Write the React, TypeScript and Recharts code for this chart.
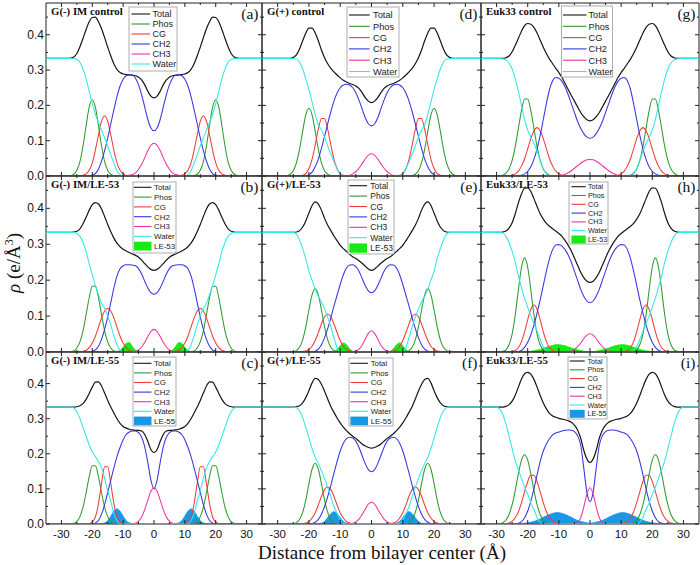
import { ComposedChart, Line, Area, XAxis, YAxis, ReferenceArea } from "recharts"

// Electron density profiles are symmetric about the bilayer centre,
// so each series is read off the picture for z >= 0 and mirrored.
const HALF_X = [0, 1, 2, 3, 4, 5, 6, 7, 8, 9, 10, 11, 12, 13, 14, 15, 16, 17, 18, 19, 20, 21, 22, 23, 24, 25, 26, 27, 28, 29, 30, 35]

const X_TICKS = [-30, -25, -20, -15, -10, -5, 0, 5, 10, 15, 20, 25, 30]
const Y_TICKS = [0, 0.05, 0.1, 0.15, 0.2, 0.25, 0.3, 0.35, 0.4, 0.45]

const KEYS = ["total", "phos", "cg", "ch2", "ch3", "water"]
const LABELS = ["Total", "Phos", "CG", "CH2", "CH3", "Water"]
const COLORS = ["#151515", "#2e9b2e", "#f23b3b", "#3535e6", "#f0339c", "#2fe8e8"]
const LE53_COLOR = "#18ea18"
const LE55_COLOR = "#1a98e6"

// (a) G(-) IM control
const A_TOTAL = [.221, .226, .240, .258, .272, .280, .284, .285,
  .286, .287, .289, .293, .302, .318, .340, .365,
  .392, .417, .437, .450, .449, .437, .415, .390,
  .366, .347, .337, .334, .333, .333, .333, .333]
const A_PHOS = [0, 0, 0, 0, 0, 0, 0, 0,
  0, 0, 0, 0, 0, .001, .005, .016,
  .041, .085, .143, .195, .216, .195, .143, .085,
  .041, .016, .005, .001, 0, 0, 0, 0]
const A_CG = [0, 0, 0, 0, 0, 0, 0, 0,
  0, .002, .006, .016, .037, .073, .116, .155,
  .170, .155, .116, .073, .037, .016, .006, .002,
  0, 0, 0, 0, 0, 0, 0, 0]
const A_CH2 = [.128, .136, .160, .195, .230, .258, .277, .286,
  .287, .284, .274, .255, .225, .188, .148, .108,
  .072, .042, .020, .007, .002, 0, 0, 0,
  0, 0, 0, 0, 0, 0, 0, 0]
const A_CH3 = [.093, .087, .072, .052, .033, .019, .009, .004,
  .002, .001, 0, 0, 0, 0, 0, 0,
  0, 0, 0, 0, 0, 0, 0, 0,
  0, 0, 0, 0, 0, 0, 0, 0]
const A_WATER = [0, 0, 0, 0, 0, 0, 0, 0,
  0, 0, 0, .004, .015, .036, .060, .085,
  .108, .130, .152, .175, .205, .240, .275, .303,
  .322, .330, .333, .333, .333, .333, .333, .333]

// (b) G(-) IM/LE-53
const B_TOTAL = [.227, .230, .237, .246, .256, .264, .269, .273,
  .277, .281, .286, .293, .303, .317, .335, .355,
  .377, .398, .412, .416, .410, .395, .375, .357,
  .343, .336, .334, .333, .333, .333, .333, .333]
const B_PHOS = [0, 0, 0, 0, 0, 0, 0, 0,
  0, 0, 0, 0, .001, .003, .011, .028,
  .059, .104, .151, .183, .183, .151, .104, .059,
  .028, .011, .003, .001, 0, 0, 0, 0]
const B_CG = [0, 0, 0, 0, 0, 0, .001, .002,
  .005, .012, .025, .044, .069, .095, .114, .122,
  .114, .095, .069, .044, .025, .012, .005, .002,
  .001, 0, 0, 0, 0, 0, 0, 0]
const B_CH2 = [.161, .165, .178, .197, .217, .232, .240, .242,
  .243, .243, .240, .232, .212, .178, .138, .098,
  .063, .035, .016, .006, .002, 0, 0, 0,
  0, 0, 0, 0, 0, 0, 0, 0]
const B_CH3 = [.063, .057, .043, .027, .014, .006, .002, .001,
  0, 0, 0, 0, 0, 0, 0, 0,
  0, 0, 0, 0, 0, 0, 0, 0,
  0, 0, 0, 0, 0, 0, 0, 0]
const B_WATER = [0, 0, 0, 0, 0, 0, 0, 0,
  0, 0, 0, .004, .020, .045, .075, .100,
  .122, .135, .160, .185, .215, .245, .280, .305,
  .322, .330, .333, .333, .333, .333, .333, .333]
const B_LE = [0, 0, 0, 0, 0, .001, .005, .015,
  .026, .024, .013, .004, .001, 0, 0, 0,
  0, 0, 0, 0, 0, 0, 0, 0,
  0, 0, 0, 0, 0, 0, 0, 0]

// (c) G(-) IM/LE-55
const C_TOTAL = [.203, .212, .235, .255, .265, .267, .267, .268,
  .270, .273, .278, .287, .300, .316, .333, .352,
  .373, .393, .405, .404, .390, .372, .355, .343,
  .337, .334, .333, .333, .333, .333, .333, .333]
const C_PHOS = [0, 0, 0, 0, 0, 0, 0, 0,
  0, 0, 0, 0, .001, .002, .007, .021,
  .048, .089, .135, .166, .166, .135, .089, .048,
  .021, .007, .002, .001, 0, 0, 0, 0]
const C_CG = [0, 0, 0, 0, 0, 0, 0, 0,
  0, 0, .001, .005, .020, .058, .115, .163,
  .163, .115, .058, .020, .005, .001, 0, 0,
  0, 0, 0, 0, 0, 0, 0, 0]
const C_CH2 = [.100, .125, .175, .220, .247, .260, .265, .265,
  .262, .255, .240, .218, .192, .160, .125, .090,
  .055, .028, .010, .003, 0, 0, 0, 0,
  0, 0, 0, 0, 0, 0, 0, 0]
const C_CH3 = [.103, .093, .068, .041, .020, .008, .002, .001,
  0, 0, 0, 0, 0, 0, 0, 0,
  0, 0, 0, 0, 0, 0, 0, 0,
  0, 0, 0, 0, 0, 0, 0, 0]
const C_WATER = [0, 0, 0, 0, 0, 0, 0, 0,
  0, 0, 0, 0, .010, .030, .065, .095,
  .130, .160, .178, .192, .205, .225, .250, .275,
  .300, .320, .330, .333, .333, .333, .333, .333]
const C_LE = [0, 0, 0, 0, 0, 0, 0, .001,
  .003, .009, .022, .036, .043, .036, .022, .009,
  .003, .001, 0, 0, 0, 0, 0, 0,
  0, 0, 0, 0, 0, 0, 0, 0]

// (d) G(+) control
const D_TOTAL = [.208, .212, .222, .236, .248, .255, .259, .262,
  .266, .271, .278, .286, .295, .305, .318, .335,
  .357, .383, .405, .419, .419, .405, .383, .360,
  .343, .336, .333, .333, .333, .333, .333, .333]
const D_PHOS = [0, 0, 0, 0, 0, 0, 0, 0,
  0, 0, 0, 0, 0, .001, .005, .015,
  .037, .076, .127, .173, .192, .173, .127, .076,
  .037, .015, .005, .001, 0, 0, 0, 0]
const D_CG = [0, 0, 0, 0, 0, 0, 0, 0,
  .001, .002, .007, .021, .047, .088, .132, .163,
  .163, .132, .088, .047, .021, .007, .002, .001,
  0, 0, 0, 0, 0, 0, 0, 0]
const D_CH2 = [.142, .148, .165, .190, .215, .236, .250, .258,
  .260, .258, .250, .235, .212, .182, .148, .112,
  .078, .048, .026, .011, .004, 0, 0, 0,
  0, 0, 0, 0, 0, 0, 0, 0]
const D_CH3 = [.063, .059, .048, .035, .022, .012, .006, .002,
  .001, 0, 0, 0, 0, 0, 0, 0,
  0, 0, 0, 0, 0, 0, 0, 0,
  0, 0, 0, 0, 0, 0, 0, 0]
const D_WATER = [0, 0, 0, 0, 0, 0, 0, 0,
  0, 0, .006, .020, .040, .062, .085, .110,
  .130, .145, .175, .210, .245, .275, .303, .322,
  .331, .333, .333, .333, .333, .333, .333, .333]

// (e) G(+)/LE-53
const E_TOTAL = [.227, .231, .239, .247, .254, .260, .265, .272,
  .280, .288, .297, .310, .323, .338, .353, .372,
  .395, .412, .418, .408, .387, .365, .348, .338,
  .334, .333, .333, .333, .333, .333, .333, .333]
const E_PHOS = [0, 0, 0, 0, 0, 0, 0, 0,
  0, 0, 0, .001, .004, .013, .034, .070,
  .117, .159, .176, .159, .117, .070, .034, .013,
  .004, .001, 0, 0, 0, 0, 0, 0]
const E_CG = [0, 0, 0, 0, 0, 0, .001, .003,
  .007, .016, .032, .054, .078, .098, .105, .098,
  .078, .054, .032, .016, .007, .003, .001, 0,
  0, 0, 0, 0, 0, 0, 0, 0]
const E_CH2 = [.165, .170, .185, .205, .225, .238, .243, .242,
  .234, .215, .188, .158, .128, .095, .065, .040,
  .020, .008, .002, 0, 0, 0, 0, 0,
  0, 0, 0, 0, 0, 0, 0, 0]
const E_CH3 = [.059, .052, .036, .019, .008, .003, .001, 0,
  0, 0, 0, 0, 0, 0, 0, 0,
  0, 0, 0, 0, 0, 0, 0, 0,
  0, 0, 0, 0, 0, 0, 0, 0]
const E_WATER = [0, 0, 0, 0, 0, 0, 0, 0,
  0, 0, .002, .012, .040, .070, .097, .120,
  .140, .155, .175, .200, .225, .260, .288, .312,
  .328, .333, .333, .333, .333, .333, .333, .333]
const E_LE = [0, 0, 0, 0, 0, 0, .002, .009,
  .020, .025, .017, .007, .001, 0, 0, 0,
  0, 0, 0, 0, 0, 0, 0, 0,
  0, 0, 0, 0, 0, 0, 0, 0]

// (f) G(+)/LE-55
const F_TOTAL = [.216, .218, .222, .228, .236, .244, .250, .257,
  .266, .276, .288, .302, .318, .335, .356, .378,
  .398, .412, .415, .402, .380, .360, .345, .337,
  .334, .333, .333, .333, .333, .333, .333, .333]
const F_PHOS = [0, 0, 0, 0, 0, 0, 0, 0,
  0, 0, 0, .001, .004, .013, .033, .068,
  .115, .156, .173, .156, .115, .068, .033, .013,
  .004, .001, 0, 0, 0, 0, 0, 0]
const F_CG = [0, 0, 0, 0, 0, 0, .001, .003,
  .007, .017, .032, .054, .079, .098, .106, .098,
  .079, .054, .032, .017, .007, .003, .001, 0,
  0, 0, 0, 0, 0, 0, 0, 0]
const F_CH2 = [.149, .155, .172, .195, .218, .236, .245, .247,
  .243, .230, .208, .178, .145, .110, .078, .050,
  .028, .013, .005, .001, 0, 0, 0, 0,
  0, 0, 0, 0, 0, 0, 0, 0]
const F_CH3 = [.062, .057, .042, .027, .014, .006, .002, .001,
  0, 0, 0, 0, 0, 0, 0, 0,
  0, 0, 0, 0, 0, 0, 0, 0,
  0, 0, 0, 0, 0, 0, 0, 0]
const F_WATER = [0, 0, 0, 0, 0, 0, 0, 0,
  0, .002, .012, .030, .050, .078, .105, .130,
  .152, .172, .190, .215, .245, .275, .303, .322,
  .331, .333, .333, .333, .333, .333, .333, .333]
const F_LE = [0, 0, 0, 0, 0, 0, 0, .001,
  .002, .007, .018, .029, .035, .029, .018, .007,
  .002, .001, 0, 0, 0, 0, 0, 0,
  0, 0, 0, 0, 0, 0, 0, 0]

// (g) Euk33 control
const G_TOTAL = [.156, .159, .168, .180, .196, .212, .228, .245,
  .262, .279, .293, .305, .318, .331, .347, .365,
  .385, .405, .421, .430, .432, .426, .410, .390,
  .370, .352, .340, .335, .333, .333, .333, .333]
const G_PHOS = [0, 0, 0, 0, 0, 0, 0, 0,
  0, 0, 0, 0, .001, .002, .008, .020,
  .044, .083, .135, .185, .218, .218, .185, .135,
  .083, .044, .020, .008, .002, .001, 0, 0]
const G_CG = [0, 0, 0, 0, 0, 0, 0, 0,
  .001, .002, .006, .014, .028, .049, .077, .106,
  .128, .137, .128, .106, .077, .049, .028, .014,
  .006, .002, .001, 0, 0, 0, 0, 0]
const G_CH2 = [.107, .110, .120, .135, .155, .180, .205, .230,
  .252, .268, .277, .279, .270, .245, .205, .160,
  .115, .077, .047, .026, .013, .006, .002, 0,
  0, 0, 0, 0, 0, 0, 0, 0]
const G_CH3 = [.047, .046, .042, .036, .029, .022, .015, .009,
  .005, .002, .001, 0, 0, 0, 0, 0,
  0, 0, 0, 0, 0, 0, 0, 0,
  0, 0, 0, 0, 0, 0, 0, 0]
const G_WATER = [0, 0, 0, 0, 0, 0, 0, 0,
  0, 0, 0, 0, 0, 0, .006, .020,
  .045, .070, .092, .110, .130, .160, .200, .240,
  .275, .303, .320, .329, .332, .333, .333, .333]

// (h) Euk33/LE-53
const H_TOTAL = [.194, .197, .207, .222, .242, .262, .281, .297,
  .310, .322, .330, .337, .343, .350, .358, .370,
  .385, .405, .427, .447, .457, .456, .440, .415,
  .385, .360, .345, .337, .334, .333, .333, .333]
const H_PHOS = [0, 0, 0, 0, 0, 0, 0, 0,
  0, 0, 0, 0, 0, 0, .002, .006,
  .020, .050, .103, .173, .236, .262, .236, .173,
  .103, .050, .020, .006, .002, 0, 0, 0]
const H_CG = [0, 0, 0, 0, 0, 0, 0, 0,
  0, 0, 0, .001, .004, .012, .029, .056,
  .090, .119, .131, .119, .090, .056, .029, .012,
  .004, .001, 0, 0, 0, 0, 0, 0]
const H_CH2 = [.137, .142, .155, .175, .200, .225, .250, .270,
  .285, .295, .299, .298, .285, .260, .225, .185,
  .145, .108, .075, .048, .027, .013, .005, .001,
  0, 0, 0, 0, 0, 0, 0, 0]
const H_CH3 = [.051, .047, .037, .025, .014, .007, .003, .001,
  0, 0, 0, 0, 0, 0, 0, 0,
  0, 0, 0, 0, 0, 0, 0, 0,
  0, 0, 0, 0, 0, 0, 0, 0]
const H_WATER = [0, 0, 0, 0, 0, 0, 0, 0,
  0, 0, 0, 0, 0, 0, .004, .014,
  .035, .058, .080, .100, .125, .150, .180, .212,
  .250, .280, .305, .322, .331, .333, .333, .333]
const H_LE = [.001, .001, .002, .004, .006, .008, .011, .014,
  .017, .019, .020, .020, .018, .016, .013, .010,
  .007, .005, .003, .002, .001, .001, 0, 0,
  0, 0, 0, 0, 0, 0, 0, 0]

// (i) Euk33/LE-55
const I_TOTAL = [.175, .185, .210, .245, .268, .282, .290, .294,
  .297, .299, .301, .304, .308, .315, .328, .345,
  .366, .390, .412, .427, .432, .428, .413, .390,
  .367, .350, .340, .335, .333, .333, .333, .333]
const I_PHOS = [0, 0, 0, 0, 0, 0, 0, 0,
  0, 0, 0, 0, 0, .001, .004, .011,
  .027, .055, .096, .143, .182, .197, .182, .143,
  .096, .055, .027, .011, .004, .001, 0, 0]
const I_CG = [0, 0, 0, 0, 0, 0, 0, 0,
  0, 0, .001, .003, .008, .018, .035, .061,
  .092, .121, .139, .139, .121, .092, .061, .035,
  .018, .008, .003, .001, 0, 0, 0, 0]
const I_CH2 = [.064, .090, .160, .225, .252, .263, .267, .268,
  .267, .265, .262, .259, .254, .243, .228, .208,
  .178, .140, .100, .065, .037, .018, .007, .002,
  0, 0, 0, 0, 0, 0, 0, 0]
const I_CH3 = [.103, .085, .048, .018, .004, .001, 0, 0,
  0, 0, 0, 0, 0, 0, 0, 0,
  0, 0, 0, 0, 0, 0, 0, 0,
  0, 0, 0, 0, 0, 0, 0, 0]
const I_WATER = [0, 0, 0, 0, 0, 0, 0, 0,
  0, 0, 0, 0, 0, 0, 0, 0,
  .005, .018, .042, .060, .085, .105, .130, .155,
  .180, .215, .250, .285, .312, .328, .333, .333]
const I_LE = [.002, .003, .005, .007, .010, .014, .019, .023,
  .027, .030, .032, .032, .030, .027, .023, .019,
  .014, .010, .007, .005, .003, .002, .001, .001,
  0, 0, 0, 0, 0, 0, 0, 0]

type LE = { name: string; values: number[]; color: string }
type PanelDef = { id: string; col: number; row: number; title: string; series: number[][]; le: LE | null }

const PANELS: PanelDef[] = [
  { id: "a", col: 0, row: 0, title: "G(-) IM control", series: [A_TOTAL, A_PHOS, A_CG, A_CH2, A_CH3, A_WATER], le: null },
  { id: "b", col: 0, row: 1, title: "G(-) IM/LE-53", series: [B_TOTAL, B_PHOS, B_CG, B_CH2, B_CH3, B_WATER], le: { name: "LE-53", values: B_LE, color: LE53_COLOR } },
  { id: "c", col: 0, row: 2, title: "G(-) IM/LE-55", series: [C_TOTAL, C_PHOS, C_CG, C_CH2, C_CH3, C_WATER], le: { name: "LE-55", values: C_LE, color: LE55_COLOR } },
  { id: "d", col: 1, row: 0, title: "G(+) control", series: [D_TOTAL, D_PHOS, D_CG, D_CH2, D_CH3, D_WATER], le: null },
  { id: "e", col: 1, row: 1, title: "G(+)/LE-53", series: [E_TOTAL, E_PHOS, E_CG, E_CH2, E_CH3, E_WATER], le: { name: "LE-53", values: E_LE, color: LE53_COLOR } },
  { id: "f", col: 1, row: 2, title: "G(+)/LE-55", series: [F_TOTAL, F_PHOS, F_CG, F_CH2, F_CH3, F_WATER], le: { name: "LE-55", values: F_LE, color: LE55_COLOR } },
  { id: "g", col: 2, row: 0, title: "Euk33 control", series: [G_TOTAL, G_PHOS, G_CG, G_CH2, G_CH3, G_WATER], le: null },
  { id: "h", col: 2, row: 1, title: "Euk33/LE-53", series: [H_TOTAL, H_PHOS, H_CG, H_CH2, H_CH3, H_WATER], le: { name: "LE-53", values: H_LE, color: LE53_COLOR } },
  { id: "i", col: 2, row: 2, title: "Euk33/LE-55", series: [I_TOTAL, I_PHOS, I_CG, I_CH2, I_CH3, I_WATER], le: { name: "LE-55", values: I_LE, color: LE55_COLOR } },
]

// plot-area geometry in page pixels
const COLS = [{ l: 46, w: 216 }, { l: 262, w: 219 }, { l: 481, w: 218 }]
const ROWS = [{ t: 3, h: 173 }, { t: 176, h: 176 }, { t: 352, h: 172 }]

// legend boxes: x, y, w, h, first row offset, row step, font, line start/end, text offset
const LEGENDS: Record<string, { x: number; y: number; w: number; h: number; first: number; step: number; font: number; l0: number; l1: number; tx: number }> = {
  a: { x: 129, y: 7, w: 48, h: 64, first: 7, step: 10, font: 9, l0: 2.5, l1: 21, tx: 23.5 },
  b: { x: 133, y: 182, w: 43, h: 71, first: 5.3, step: 9.8, font: 7.9, l0: 1, l1: 18.5, tx: 21 },
  c: { x: 133, y: 357, w: 43, h: 69, first: 6.3, step: 9.6, font: 7.9, l0: 1, l1: 18.5, tx: 21 },
  d: { x: 347, y: 7, w: 52, h: 70, first: 8, step: 11.3, font: 9.3, l0: 2, l1: 22.7, tx: 26 },
  e: { x: 348, y: 180, w: 46, h: 74, first: 5.7, step: 10.4, font: 8.5, l0: 1.3, l1: 19, tx: 22.3 },
  f: { x: 349, y: 358, w: 44, h: 68, first: 5.3, step: 9.6, font: 7.8, l0: 1.4, l1: 19, tx: 21.7 },
  g: { x: 561.5, y: 6, w: 51, h: 71, first: 9, step: 11.3, font: 9.2, l0: 1.5, l1: 25, tx: 27 },
  h: { x: 569, y: 182, w: 39, h: 62, first: 4.7, step: 8.8, font: 7.2, l0: 2.4, l1: 16.7, tx: 19 },
  i: { x: 568, y: 357, w: 39, h: 62, first: 4, step: 8.8, font: 7.2, l0: 1.7, l1: 16.7, tx: 19.4 },
}

const SERIF = "'Liberation Serif', 'Times New Roman', serif"
const SANS = "'Liberation Sans', Arial, sans-serif"
const AXIS = "#222"

function buildRows(series: number[][], le: number[] | null) {
  const idx: number[] = []
  for (let i = HALF_X.length - 1; i > 0; i--) idx.push(-i)
  for (let i = 0; i < HALF_X.length; i++) idx.push(i)
  return idx.map((s) => {
    const i = Math.abs(s)
    const row: Record<string, number> = { x: s < 0 ? -HALF_X[i] : HALF_X[i] }
    KEYS.forEach((k, j) => { row[k] = series[j][i] })
    if (le) row.le = le[i]
    return row
  })
}

const xTick = (plotH: number, labels: boolean) => (props: any) => {
  const { x, y, payload } = props
  const major = Math.round(payload.value) % 10 === 0
  const len = major ? 4 : 2
  return (
    <g>
      <line x1={x} y1={y} x2={x} y2={y - len} stroke={AXIS} />
      <line x1={x} y1={y - plotH} x2={x} y2={y - plotH + len} stroke={AXIS} />
      {labels && major && (
        <text x={x} y={y + 14} textAnchor="middle" fontSize={11.5} fontFamily={SANS} fill="#111">{payload.value}</text>
      )}
    </g>
  )
}

const yTick = (plotW: number, labels: boolean) => (props: any) => {
  const { x, y, payload } = props
  const major = Math.round(payload.value * 100) % 10 === 0
  const len = major ? 4 : 2
  return (
    <g>
      <line x1={x} y1={y} x2={x + len} y2={y} stroke={AXIS} />
      <line x1={x + plotW} y1={y} x2={x + plotW - len} y2={y} stroke={AXIS} />
      {labels && major && (
        <text x={x - 2} y={y + 4} textAnchor="end" fontSize={12} fontFamily={SANS} fill="#111">{payload.value.toFixed(1)}</text>
      )}
    </g>
  )
}

function Panel({ p }: { p: PanelDef }) {
  const c = COLS[p.col]
  const r = ROWS[p.row]
  // axes are 1px thick so recharts still renders their ticks
  const ML = 39, MT = 4, MR = 6, MB = 21
  const rows = buildRows(p.series, p.le ? p.le.values : null)
  return (
    <div style={{ position: "absolute", left: c.l - ML - 1, top: r.t - MT }}>
      <ComposedChart width={c.w + ML + 1 + MR} height={r.h + MT + 1 + MB} data={rows} margin={{ top: MT, right: MR, bottom: MB, left: ML }}>
        <XAxis dataKey="x" type="number" domain={[-35, 35]} ticks={X_TICKS} interval={0} height={1}
          tickSize={0} tickMargin={0} axisLine={false} tick={xTick(r.h, p.row === 2)} allowDataOverflow />
        <YAxis type="number" domain={[0, 0.49]} ticks={Y_TICKS} interval={0} width={1}
          tickSize={0} tickMargin={0} axisLine={false} tick={yTick(c.w, p.col === 0)} allowDataOverflow />
        {p.le && (
          <Area dataKey="le" type="monotone" stroke={p.le.color} strokeWidth={1} fill={p.le.color} fillOpacity={1}
            dot={false} activeDot={false} isAnimationActive={false} />
        )}
        {KEYS.map((k, j) => (
          <Line key={k} dataKey={k} type="monotone" stroke={COLORS[j]} strokeWidth={j === 0 ? 1.2 : 1.05}
            dot={false} activeDot={false} isAnimationActive={false} />
        ))}
        <ReferenceArea x1={-35} x2={35} y1={0} y2={0.49} fill="none" stroke={AXIS} strokeWidth={1} ifOverflow="visible" />
      </ComposedChart>
    </div>
  )
}

function Overlay() {
  return (
    <svg width={700} height={565} style={{ position: "absolute", left: 0, top: 0, pointerEvents: "none" }}>
      {PANELS.map((p) => {
        const c = COLS[p.col]
        const r = ROWS[p.row]
        const lg = LEGENDS[p.id]
        const items = LABELS.map((label, j) => ({ label, color: COLORS[j], fill: false }))
        if (p.le) items.push({ label: p.le.name, color: p.le.color, fill: true })
        return (
          <g key={p.id}>
            <text x={c.l + 5} y={r.t + 12} fontFamily={SERIF} fontWeight="bold" fontSize={10.8} fill="#111">{p.title}</text>
            <text x={c.l + c.w - 3.5} y={r.t + 15.5} textAnchor="end" fontFamily={SERIF} fontSize={15.5} fill="#111">({p.id})</text>
            <rect x={lg.x} y={lg.y} width={lg.w} height={lg.h} fill="#fff" stroke="#9a9a9a" strokeWidth={0.8} />
            {items.map((it, j) => {
              const cy = lg.y + lg.first + j * lg.step
              return (
                <g key={it.label}>
                  {it.fill ? (
                    <rect x={lg.x + lg.l0} y={cy - lg.step * 0.45} width={lg.l1 - lg.l0} height={lg.step * 0.9} fill={it.color} />
                  ) : (
                    <line x1={lg.x + lg.l0} y1={cy} x2={lg.x + lg.l1} y2={cy} stroke={it.color} strokeWidth={1.1} />
                  )}
                  <text x={lg.x + lg.tx} y={cy + lg.font * 0.36} fontFamily={SANS} fontSize={lg.font} fill="#222">{it.label}</text>
                </g>
              )
            })}
          </g>
        )
      })}
      <text transform="rotate(-90 20 263)" x={20} y={263} textAnchor="middle" fontFamily={SERIF} fontSize={19} fill="#111">
        <tspan fontStyle="italic">ρ</tspan> (e/Å<tspan dy={-7} fontSize={12}>3</tspan><tspan dy={7}>)</tspan>
      </text>
      <text x={382} y={559} textAnchor="middle" fontFamily={SERIF} fontSize={19} fill="#111">Distance from bilayer center (Å)</text>
    </svg>
  )
}

export default function App() {
  return (
    <div style={{ position: "absolute", left: 0, top: 0, width: 700, height: 565, background: "#fff", overflow: "hidden" }}>
      {PANELS.map((p) => <Panel key={p.id} p={p} />)}
      <Overlay />
    </div>
  )
}
